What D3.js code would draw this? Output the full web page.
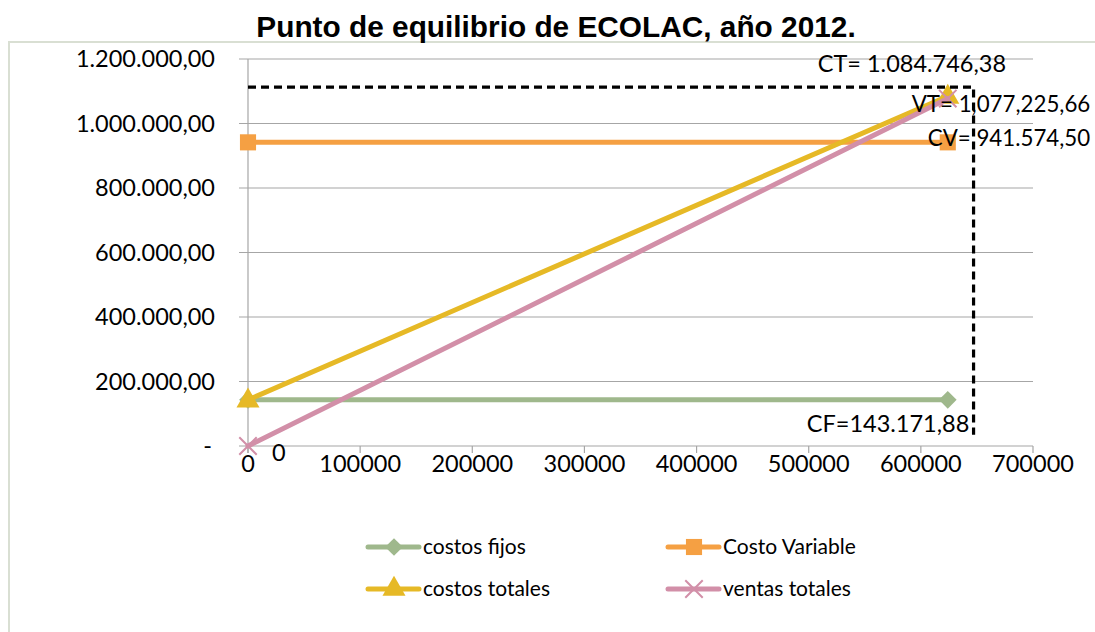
<!DOCTYPE html>
<html><head><meta charset="utf-8">
<script src="https://cdn.jsdelivr.net/npm/d3@7"></script>
<style>body{margin:0;background:#fff}svg{display:block}</style>
</head><body>
<svg id="c" width="1095" height="632"></svg>
<script>
const title = "Punto de equilibrio de ECOLAC, año 2012.";
const xPoints = [0, 624000];
const costosFijos = [143171.88, 143171.88];
const costoVariable = [941574.50, 941574.50];
const costosTotales = [143171.88, 1084746.38];
const ventasTotales = [0, 1077225.66];
const seriesNames = ["costos fijos", "Costo Variable", "costos totales", "ventas totales"];
const yTicks = [0, 200000, 400000, 600000, 800000, 1000000, 1200000];
const yTickLabels = ["-", "200.000,00", "400.000,00", "600.000,00", "800.000,00", "1.000.000,00", "1.200.000,00"];
const xTicks = [0, 100000, 200000, 300000, 400000, 500000, 600000, 700000];
const guideX = [0, 647000, 647000];
const guideY = [1113000, 1113000, 35000];
const annotations = [
  {text: "CT=  1.084.746,38", x: 624000, y: 1084746.38},
  {text: "VT= 1,077,225,66", x: 624000, y: 1077225.66},
  {text: "CV= 941.574,50", x: 624000, y: 941574.50},
  {text: "CF=143.171,88", x: 624000, y: 143171.88},
  {text: "0", x: 0, y: 0}
];

const svg = d3.select("#c");
const font = "Lato, 'Open Sans', sans-serif";
const x = d3.scaleLinear().domain([0, 700000]).range([248, 1033]);
const y = d3.scaleLinear().domain([0, 1200000]).range([446, 59]);

// frame
svg.append("rect").attr("x", 9).attr("y", 42).attr("width", 1100).attr("height", 600)
  .attr("fill", "none").attr("stroke", "#d9dfd3").attr("stroke-width", 2);

// title
svg.append("text").attr("x", 556).attr("y", 37).attr("text-anchor", "middle")
  .attr("font-family", "'Liberation Sans', Arial, sans-serif").attr("font-weight", "bold")
  .attr("font-size", 29.8).text(title);

// grid
svg.append("g").selectAll("line").data(yTicks).join("line")
  .attr("x1", x(0) - 9).attr("x2", x(700000)).attr("y1", d => y(d)).attr("y2", d => y(d))
  .attr("stroke", "#a6a6a6").attr("stroke-width", 1.2);
// y axis line
svg.append("line").attr("x1", x(0)).attr("x2", x(0)).attr("y1", y(1200000)).attr("y2", y(0) + 7)
  .attr("stroke", "#a6a6a6").attr("stroke-width", 1.2);
// x ticks
svg.append("g").selectAll("line").data(xTicks).join("line")
  .attr("x1", d => x(d)).attr("x2", d => x(d)).attr("y1", y(0)).attr("y2", y(0) + 7)
  .attr("stroke", "#a6a6a6").attr("stroke-width", 1.2);

// y labels
svg.append("g").selectAll("text").data(yTicks).join("text")
  .attr("x", (d, i) => i === 0 ? 212 : 215).attr("y", d => y(d)).attr("dy", "0.35em")
  .attr("text-anchor", "end").attr("font-family", font).attr("font-size", 23.5)
  .text((d, i) => yTickLabels[i]);
// x labels
svg.append("g").selectAll("text").data(xTicks).join("text")
  .attr("x", d => x(d)).attr("y", y(0) + 9).attr("dy", "0.72em")
  .attr("text-anchor", "middle").attr("font-family", font).attr("font-size", 23.5)
  .text(d => d3.format("d")(d));

// series
const colors = ["#9fb88c", "#f5a043", "#e6b926", "#d28fa8"];
const allSeries = [costosFijos, costoVariable, costosTotales, ventasTotales];
const line = d3.line().x(d => x(d[0])).y(d => y(d[1]));
const markerPath = [
  d3.symbol().type(d3.symbolDiamond2).size(200),
  d3.symbol().type(d3.symbolSquare).size(260),
  d3.symbol().type(d3.symbolTriangle).size(230),
  d3.symbol().type(d3.symbolX).size(200)
];
allSeries.forEach((vals, i) => {
  const pts = xPoints.map((xv, j) => [xv, vals[j]]);
  svg.append("path").datum(pts).attr("d", line).attr("fill", "none")
    .attr("stroke", colors[i]).attr("stroke-width", 5).attr("stroke-linecap", "round");
  const g = svg.append("g");
  g.selectAll("path").data(pts).join("path")
    .attr("transform", d => `translate(${x(d[0])},${y(d[1]) + (i === 2 ? 1 : 0)})`)
    .attr("d", markerPath[i]())
    .attr("fill", i === 3 ? "none" : colors[i])
    .attr("stroke", colors[i]).attr("stroke-width", i === 3 ? 2 : 0);
});

// annotations
const ann = svg.append("g").attr("font-family", font).attr("font-size", 23.5).attr("fill", "#000");
ann.append("text").attr("x", x(annotations[0].x) - 130).attr("y", y(annotations[0].y) - 24).text(annotations[0].text);
ann.append("text").attr("x", x(annotations[1].x) - 36).attr("y", y(annotations[1].y) + 13).attr("font-size", 22.3).text(annotations[1].text);
ann.append("text").attr("x", x(annotations[2].x) - 20).attr("y", y(annotations[2].y) + 4).attr("font-size", 22.3).text(annotations[2].text);
ann.append("text").attr("x", x(annotations[3].x) - 141).attr("y", y(annotations[3].y) + 32).text(annotations[3].text);
ann.append("text").attr("x", x(annotations[4].x) + 24).attr("y", y(annotations[4].y) + 15).text(annotations[4].text);

// dashed guide
svg.append("path").datum(guideX.map((v, i) => [v, guideY[i]])).attr("d", line)
  .attr("fill", "none").attr("stroke", "#000").attr("stroke-width", 3.2)
  .attr("stroke-dasharray", "8,5");

// legend
const legendPos = [[368, 547], [668, 547], [368, 589], [668, 589]];
seriesNames.forEach((name, i) => {
  const [lx, ly] = legendPos[i];
  const g = svg.append("g").attr("transform", `translate(${lx},${ly})`);
  g.append("line").attr("x1", 0).attr("x2", 51).attr("stroke", colors[i]).attr("stroke-width", 5).attr("stroke-linecap", "round");
  g.append("path").attr("transform", "translate(26,0)").attr("d", markerPath[i]())
    .attr("fill", i === 3 ? "none" : colors[i]).attr("stroke", colors[i]).attr("stroke-width", i === 3 ? 2 : 0);
  g.append("text").attr("x", 55).attr("dy", "0.35em").attr("font-family", font).attr("font-size", 21).text(name);
});
</script>
</body></html>
